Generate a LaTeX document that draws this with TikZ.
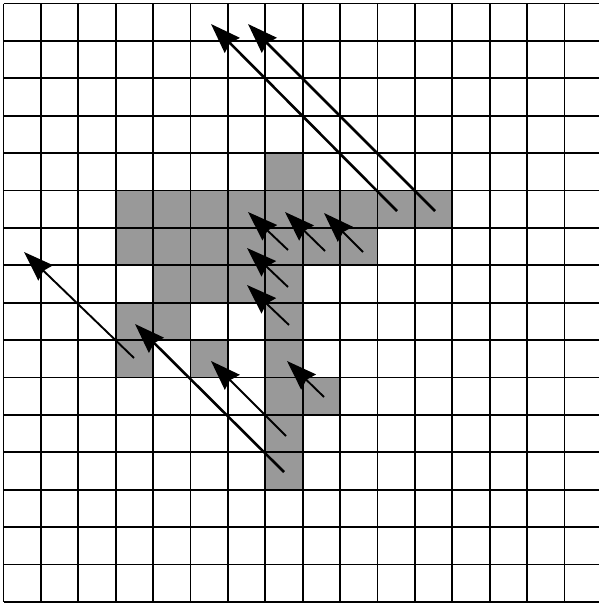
\documentclass[tikz,border=0pt]{standalone}
\usetikzlibrary{arrows.meta}
\definecolor{cellgray}{RGB}{153,153,153}
\begin{document}
\begin{tikzpicture}[x=1pt,y=-1pt,
  gridline/.style={line width=1.8pt,black},
  vec/.style={line width=1.9pt,-{Stealth[length=30pt,width=21pt,inset=3pt]}},
  thickvec/.style={vec,line width=2.6pt}]
\useasboundingbox (0,0) rectangle (599,603);
\clip (0,0) rectangle (599,603);
\fill[white] (0,0) rectangle (599,603);
\begin{scope}[shift={(3.5,3.5)},x=37.4pt,y=-37.4pt]
  \foreach \c/\r in {7/4,
      3/5,4/5,5/5,6/5,7/5,8/5,9/5,10/5,11/5,
      3/6,4/6,5/6,6/6,7/6,8/6,9/6,
      4/7,5/7,6/7,7/7,
      3/8,4/8,7/8,
      3/9,5/9,7/9,
      7/10,8/10,
      7/11,7/12}
    \fill[cellgray] (\c,\r) rectangle ++(1,1);
  \foreach \k in {0,...,16} {
    \draw[gridline] (\k,0) -- (\k,16);
    \draw[gridline] (0,\k) -- (16,\k);
  }
\end{scope}
% arrow end points
\coordinate (a1t) at (397,211); \coordinate (a1h) at (211,24);
\coordinate (a2t) at (435,211); \coordinate (a2h) at (248,24);
\coordinate (s1t) at (288,250); \coordinate (s1h) at (248,212);
\coordinate (s2t) at (325,251); \coordinate (s2h) at (285,212);
\coordinate (s3t) at (363,252); \coordinate (s3h) at (324,213);
\coordinate (s4t) at (288,287); \coordinate (s4h) at (247,248);
\coordinate (s5t) at (289,325); \coordinate (s5h) at (247,285);
\coordinate (l1t) at (134,358); \coordinate (l1h) at (24,252);
\coordinate (l2t) at (284,472); \coordinate (l2h) at (135,324);
\coordinate (m1t) at (286,436); \coordinate (m1h) at (211,361);
\coordinate (m2t) at (324,397); \coordinate (m2h) at (287,361);
\draw[thickvec] (a1t) -- (a1h);
\draw[thickvec] (a2t) -- (a2h);
\draw[vec] (s1t) -- (s1h);
\draw[vec] (s2t) -- (s2h);
\draw[vec] (s3t) -- (s3h);
\draw[vec] (s4t) -- (s4h);
\draw[vec] (s5t) -- (s5h);
\draw[vec] (l1t) -- (l1h);
\draw[thickvec] (l2t) -- (l2h);
\draw[vec] (m1t) -- (m1h);
\draw[vec] (m2t) -- (m2h);
\end{tikzpicture}
\end{document}
